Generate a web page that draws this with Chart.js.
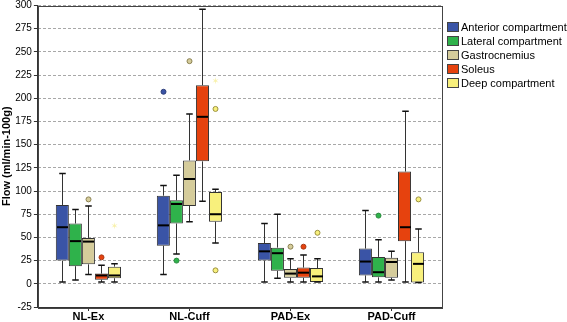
<!DOCTYPE html>
<html>
<head>
<meta charset="utf-8">
<script src="https://cdn.jsdelivr.net/npm/chart.js@4.4.1/dist/chart.umd.min.js"></script>
<style>
    html, body { margin: 0; padding: 0; background: #fff; }
    #wrap { width: 567px; height: 322px; position: relative; }
</style>
</head>
<body>
<div id="wrap"><canvas id="flowChart"></canvas></div>
<script>
// categories and box stats: [min, q1, median, q3, max]
const categories = ['NL-Ex', 'NL-Cuff', 'PAD-Ex', 'PAD-Cuff'];
const seriesNames = ['Anterior compartment', 'Lateral compartment', 'Gastrocnemius', 'Soleus', 'Deep compartment'];

const anteriorStats = [[2, 25, 61, 85, 119], [10, 41, 63, 95, 106], [2, 25, 35, 44, 65], [2, 9, 24, 38, 79]];
const lateralStats = [[4, 19, 46, 65, 80], [32, 65, 86, 90, 117], [6, 14, 33, 39, 75], [2, 7, 12.5, 29, 47.5]];
const gastrocStats = [[10, 21, 45.5, 49.5, 84], [67, 84, 113, 133, 183], [2, 6.5, 11, 16, 27], [4, 6.5, 23.5, 28, 35]];
const soleusStats = [[2, 4.5, 9, 11, 20], [89, 132, 180, 214, 296], [2, 6.5, 12, 17.5, 31], [2, 46, 61, 121, 186]];
const deepStats = [[2, 6, 9, 18.5, 21.5], [44, 67, 75, 99, 102], [2, 2, 8, 17, 27], [1.5, 1.5, 21.5, 34, 59]];

// outliers (circles) and extremes (stars)
const anteriorOut = [[], [207], [], []];
const lateralOut = [[], [25], [], [73.5]];
const gastrocOut = [[91], [240], [40], []];
const soleusOut = [[28.5], [], [40], []];
const deepOut = [[], [14.5, 188.5], [55], [91]];
const deepExtreme = [[62], [218], [], []];

const fills = ['#3a54a6', '#2fb24b', '#d5cc9b', '#e6420e', '#f8f07c'];
const dots = ['#2e3f7a', '#2a8a3e', '#8a8050', '#a83a18', '#9a9040'];

const allStats = [anteriorStats, lateralStats, gastrocStats, soleusStats, deepStats];
const allOut = [anteriorOut, lateralOut, gastrocOut, soleusOut, deepOut];
const allExtreme = [[[], [], [], []], [[], [], [], []], [[], [], [], []], [[], [], [], []], deepExtreme];

const boxplotPlugin = {
    id: 'boxplot',
    afterDatasetsDraw(chart) {
        const ctx = chart.ctx;
        const y = chart.scales.y;
        chart.data.datasets.forEach((ds, d) => {
            const meta = chart.getDatasetMeta(d);
            meta.data.forEach((bar, i) => {
                const s = allStats[d][i];
                const x = Math.round(bar.x) + 0.5;
                const w = bar.width;
                ctx.save();
                ctx.strokeStyle = '#333';
                ctx.lineWidth = 1;
                ctx.beginPath();
                // whiskers
                ctx.moveTo(x, y.getPixelForValue(s[3]));
                ctx.lineTo(x, y.getPixelForValue(s[4]));
                ctx.moveTo(x, y.getPixelForValue(s[1]));
                ctx.lineTo(x, y.getPixelForValue(s[0]));
                ctx.stroke();
                // caps
                ctx.strokeStyle = '#111';
                ctx.lineWidth = 1.5;
                ctx.beginPath();
                ctx.moveTo(x - w / 4, y.getPixelForValue(s[4]));
                ctx.lineTo(x + w / 4, y.getPixelForValue(s[4]));
                ctx.moveTo(x - w / 4, y.getPixelForValue(s[0]));
                ctx.lineTo(x + w / 4, y.getPixelForValue(s[0]));
                ctx.stroke();
                // median
                ctx.strokeStyle = '#000';
                ctx.lineWidth = 2;
                ctx.beginPath();
                ctx.moveTo(x - w / 2 + 1, y.getPixelForValue(s[2]));
                ctx.lineTo(x + w / 2 - 1, y.getPixelForValue(s[2]));
                ctx.stroke();
                // outliers
                ctx.lineWidth = 1;
                allOut[d][i].forEach(v => {
                    ctx.beginPath();
                    ctx.arc(x, y.getPixelForValue(v), 2.5, 0, Math.PI * 2);
                    ctx.fillStyle = fills[d];
                    ctx.strokeStyle = dots[d];
                    ctx.fill();
                    ctx.stroke();
                });
                // extremes (faint stars)
                allExtreme[d][i].forEach(v => {
                    ctx.fillStyle = 'rgba(246, 238, 150, 0.8)';
                    ctx.font = '9px "DejaVu Sans"';
                    ctx.textAlign = 'center';
                    ctx.textBaseline = 'middle';
                    ctx.fillText('\u2736', x, y.getPixelForValue(v));
                });
                ctx.restore();
            });
        });
    },
    afterDraw(chart) {
        const a = chart.chartArea;
        const ctx = chart.ctx;
        ctx.save();
        ctx.strokeStyle = '#444';
        ctx.lineWidth = 1;
        ctx.strokeRect(Math.round(a.left) + 0.5, Math.round(a.top) + 0.5, Math.round(a.right - a.left), Math.round(a.bottom - a.top));

        // legend
        ctx.font = '11px "Liberation Sans"';
        ctx.textBaseline = 'middle';
        ctx.textAlign = 'left';
        seriesNames.forEach((name, d) => {
            const cy = 27 + d * 14;
            ctx.fillStyle = fills[d];
            ctx.fillRect(447, cy - 5, 12, 10);
            ctx.strokeStyle = '#444';
            ctx.strokeRect(447.5, cy - 4.5, 11, 9);
            ctx.fillStyle = '#000';
            ctx.fillText(name, 461, cy + 0.5);
        });
        ctx.restore();
    }
};

new Chart(document.getElementById('flowChart'), {
    type: 'bar',
    data: {
        labels: categories,
        datasets: seriesNames.map((name, d) => ({
            label: name,
            data: allStats[d].map(s => [s[1], s[3]]),
            backgroundColor: fills[d],
            borderColor: '#333',
            borderWidth: 1,
            borderSkipped: false,
            categoryPercentage: 0.645,
            barPercentage: 1
        }))
    },
    options: {
        responsive: true,
        maintainAspectRatio: false,
        animation: false,
        layout: { padding: { top: 0, right: 125, bottom: 0, left: 0 } },
        plugins: {
            tooltip: { enabled: false },
            legend: { display: false }
        },
        scales: {
            x: {
                offset: true,
                grid: { offset: false, drawOnChartArea: false, tickLength: 4, color: '#333' },
                border: { color: '#333' },
                ticks: { color: '#000', font: { family: 'Liberation Sans', size: 11, weight: 'bold', lineHeight: 1 }, padding: 0 }
            },
            y: {
                min: -25,
                max: 300,
                ticks: { stepSize: 25, color: '#000', font: { family: 'Liberation Sans', size: 10, lineHeight: 0.7 }, padding: 2 },
                grid: { color: '#a8a8a8', tickColor: '#333', tickLength: 4 },
                border: { color: '#333', dash: [3, 2] },
                title: {
                    display: true,
                    text: 'Flow (ml/min-100g)',
                    color: '#000',
                    font: { family: 'Liberation Sans', size: 11, weight: 'bold' },
                    padding: 0
                }
            }
        }
    },
    plugins: [boxplotPlugin]
});
</script>
</body>
</html>
